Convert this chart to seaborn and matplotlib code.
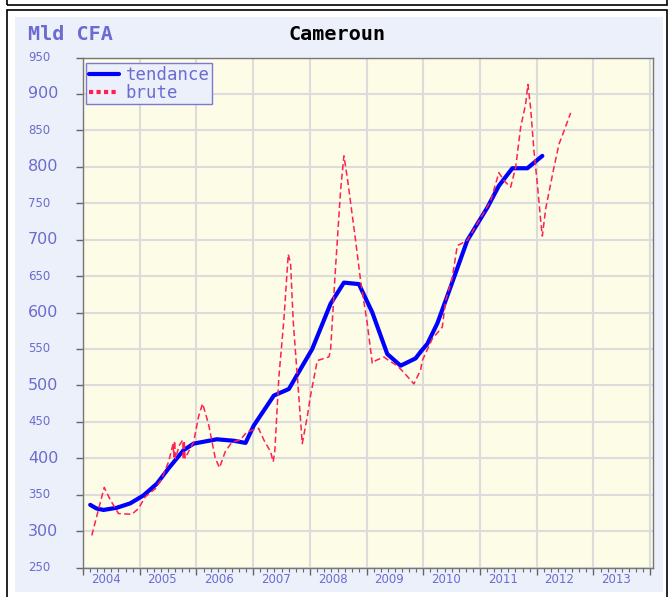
import matplotlib
matplotlib.use("Agg")
import matplotlib.pyplot as plt
import numpy as np
import pandas as pd
import seaborn as sns
from matplotlib.patches import Rectangle
from matplotlib.lines import Line2D
from matplotlib.transforms import blended_transform_factory

# --- data : Cameroun, milliards de FCFA ---
brute_annee = [
    2004.155, 2004.374, 2004.480, 2004.626, 2004.861, 2004.979, 2005.097, 2005.273,
    2005.390, 2005.508, 2005.590, 2005.600, 2005.615, 2005.630, 2005.700, 2005.760,
    2005.770, 2005.785, 2005.800, 2005.950, 2006.037, 2006.108, 2006.213, 2006.332,
    2006.407, 2006.508, 2006.624, 2006.772, 2006.889, 2007.095, 2007.189, 2007.307,
    2007.354, 2007.383, 2007.453, 2007.541, 2007.619, 2007.660, 2007.707, 2007.806,
    2007.866, 2007.954, 2008.012, 2008.131, 2008.335, 2008.365, 2008.453, 2008.541,
    2008.600, 2008.660, 2008.806, 2008.894, 2009.012, 2009.101, 2009.159, 2009.305,
    2009.393, 2009.541, 2009.688, 2009.834, 2009.952, 2009.982, 2010.159, 2010.335,
    2010.393, 2010.511, 2010.600, 2010.658, 2010.776, 2010.952, 2011.187, 2011.333,
    2011.422, 2011.540, 2011.628, 2011.716, 2011.804, 2011.845, 2011.892, 2011.951,
    2012.011, 2012.081, 2012.099, 2012.157, 2012.303, 2012.392, 2012.480, 2012.598,
]
brute_valeur = [
    294, 360, 343, 324, 323, 331, 347, 358,
    372, 395, 420, 402, 424, 400, 418, 425,
    398, 424, 400, 422, 457, 475, 447, 400,
    387, 409, 422, 425, 436, 441, 425, 409,
    395, 411, 511, 589, 680, 667, 587, 484,
    420, 457, 486, 534, 539, 548, 662, 767,
    815, 785, 699, 644, 585, 530, 534, 539,
    534, 527, 515, 502, 521, 534, 564, 580,
    616, 648, 692, 694, 699, 722, 753, 792,
    781, 772, 799, 854, 886, 913, 881, 822,
    776, 717, 705, 742, 799, 831, 849, 874,
]

tendance_annee = [
    2004.127, 2004.238, 2004.362, 2004.596, 2004.832, 2005.067, 2005.302, 2005.508,
    2005.772, 2005.949, 2006.360, 2006.654, 2006.866, 2007.012, 2007.365, 2007.630,
    2008.042, 2008.365, 2008.600, 2008.864, 2009.101, 2009.365, 2009.600, 2009.864,
    2009.952, 2010.071, 2010.247, 2010.481, 2010.776, 2011.129, 2011.333, 2011.570,
    2011.834, 2012.099,
]
tendance_valeur = [
    336, 331, 329, 332, 338, 349, 365, 386,
    411, 420, 426, 424, 421, 445, 486, 495,
    550, 612, 641, 639, 600, 543, 527, 537,
    546, 557, 585, 635, 699, 744, 774, 798,
    798, 815,
]

annees = list(range(2004, 2014))
y_graduations = list(range(250, 951, 50))

brute_df = pd.DataFrame({"annee": brute_annee, "valeur": brute_valeur})
tendance_df = pd.DataFrame({"annee": tendance_annee, "valeur": tendance_valeur})

# --- style ---
sns.set_theme(style="white")
plt.rcParams["font.family"] = ["DejaVu Sans"]

W, H = 670, 597
BLEU_TXT = "#6B6BD0"
FOND_PANNEAU = "#ECF0FA"
FOND_GRAPHE = "#FDFCE6"
ROUGE = "#FF2050"
BLEU = "#0000FF"

fig = plt.figure(figsize=(W / 100, H / 100), dpi=100)
fig.patch.set_facecolor("white")

# outer frames and panel (behind the axes)
fig.patches.append(Rectangle((7 / W, 1 - 5 / H), 660 / W, 0.05, transform=fig.transFigure,
                             fill=False, edgecolor="black", lw=1.2, zorder=-10))
fig.patches.append(Rectangle((7 / W, -0.02), 660 / W, 1 - 10 / H + 0.02, transform=fig.transFigure,
                             fill=False, edgecolor="black", lw=1.2, zorder=-10))
fig.patches.append(Rectangle((15 / W, 5 / H), 648 / W, 575 / H, transform=fig.transFigure,
                             facecolor=FOND_PANNEAU, edgecolor="none", zorder=-9))

ax = fig.add_axes([83 / W, 1 - 567.5 / H, 570 / W, 510 / H])
ax.set_zorder(1)
ax.set_facecolor(FOND_GRAPHE)

sns.lineplot(data=tendance_df, x="annee", y="valeur", ax=ax, color=BLEU, lw=3,
             sort=False, estimator=None, zorder=3)
sns.lineplot(data=brute_df, x="annee", y="valeur", ax=ax, color=ROUGE, lw=1.1,
             sort=False, estimator=None, zorder=4)
ax.lines[-1].set_dashes((4, 2.2))

ax.set_xlim(2004, 2014.05)
ax.set_ylim(250, 950)
ax.set_xlabel("")
ax.set_ylabel("")

ax.set_xticks(list(range(2004, 2015)))
ax.set_xticks(np.arange(2004, 2014.01, 1 / 8), minor=True)
ax.set_xticklabels([])
ax.set_yticks(y_graduations)
ax.set_yticklabels([])
ax.tick_params(axis="both", which="major", direction="out", length=5, width=1,
               color="#666666", bottom=True, left=True)
ax.tick_params(axis="x", which="minor", direction="out", length=3, width=0.8,
               color="#666666", bottom=True)

ax.grid(True, which="major", color="#DCDCDC", lw=1.5)
ax.set_axisbelow(True)
for s in ax.spines.values():
    s.set_visible(True)
    s.set_color("#777777")
    s.set_linewidth(1)

# year labels
tx = blended_transform_factory(ax.transData, ax.transAxes)
for a in annees:
    ax.text(a + 0.4, -0.0245, str(a), transform=tx, ha="center", va="center",
            fontsize=8.5, color=BLEU_TXT, clip_on=False)

# value labels
ty = blended_transform_factory(fig.transFigure, ax.transData)
for v in y_graduations:
    ax.text(28 / W, v, str(v), transform=ty, ha="left", va="center",
            fontsize=11.5 if v % 100 == 0 else 8.5, color=BLEU_TXT, clip_on=False)

fig.text(28 / W, 1 - 35 / H, "Mld CFA", family="DejaVu Sans Mono", fontsize=14.5,
         weight="bold", color=BLEU_TXT, ha="left", va="center")
fig.text(337 / W, 1 - 35 / H, "Cameroun", family="DejaVu Sans Mono", fontsize=14.5,
         weight="bold", color="black", ha="center", va="center")

poignees = [Line2D([], [], color=BLEU, lw=3),
            Line2D([], [], color=ROUGE, lw=3, ls=(0, (1, 0.8)))]
leg = ax.legend(handles=poignees, labels=["tendance", "brute"], loc="upper left",
                bbox_to_anchor=(0.006, 0.989), borderaxespad=0, frameon=True,
                fancybox=False, prop={"family": "DejaVu Sans Mono", "size": 12.5},
                labelcolor=BLEU_TXT, handlelength=1.7, handletextpad=0.4,
                borderpad=0.15, labelspacing=0.0)
leg.get_frame().set_facecolor(FOND_PANNEAU)
leg.get_frame().set_edgecolor("#7A7AD0")
leg.get_frame().set_linewidth(1)
leg.get_frame().set_alpha(1)

fig.savefig("out.png", dpi=100)
